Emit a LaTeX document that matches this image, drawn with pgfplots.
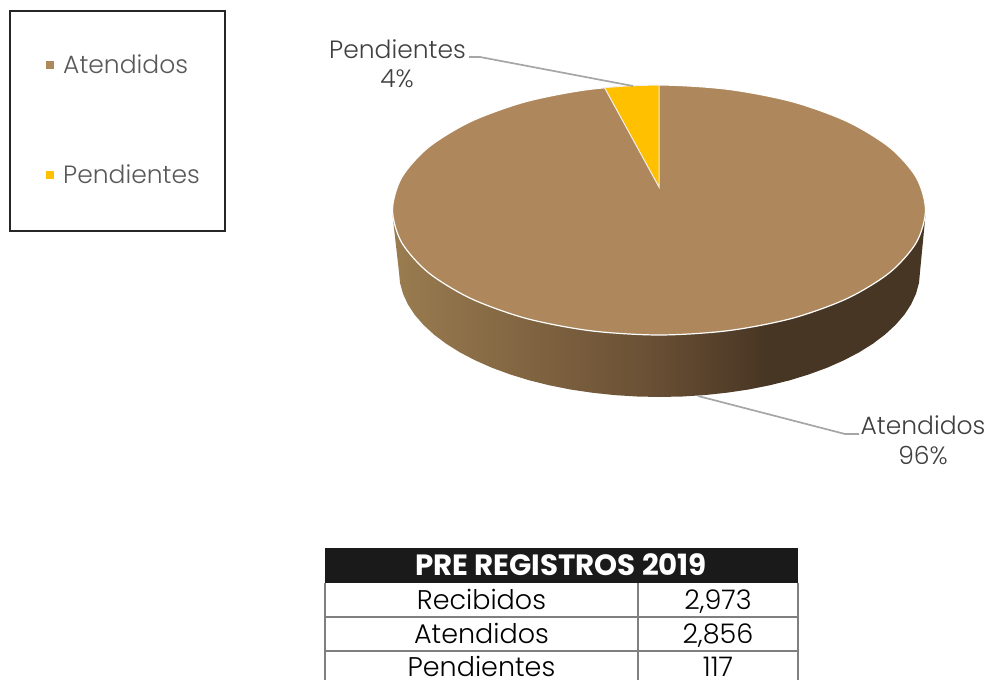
\documentclass[border=0pt]{standalone}
\usepackage{pgfplots}
\pgfplotsset{compat=1.18}
\usepackage{fontspec}
\setmainfont{Poppins}
\newfontfamily\lightf{Poppins Light}
\definecolor{brown1}{HTML}{AE885C}
\definecolor{gold1}{HTML}{FFC000}
\definecolor{s1}{HTML}{9A7C50}
\definecolor{s2}{HTML}{6A5035}
\definecolor{s3}{HTML}{483624}
\definecolor{leader}{HTML}{A6A6A6}
\definecolor{lab}{HTML}{404040}
\definecolor{leg}{HTML}{595959}
\definecolor{tabline}{HTML}{7F7F7F}
\definecolor{tabhead}{HTML}{1A1A1A}
\pgfdeclarehorizontalshading{sidewall}{100bp}{color(0bp)=(s1); color(25bp)=(s1); color(49bp)=(s2); color(60bp)=(s3); color(100bp)=(s3)}
\begin{document}
\begin{tikzpicture}
\path[use as bounding box] (0,0) rectangle (989pt,680pt);
\begin{axis}[
  at={(0,0)}, anchor=south west,
  scale only axis, width=989pt, height=680pt,
  xmin=0, xmax=989, ymin=0, ymax=680, y dir=reverse,
  hide axis, clip=true]
% side wall
\addplot[draw=none, shade, shading=sidewall, forget plot] coordinates {
 (392.5,215) (399,272) (400,282.9) (403,293.7) (407.9,304.4) (414.7,314.8) (423.4,324.8) (433.9,334.5) (446.1,343.7) (460,352.4) (475.3,360.4) (492.1,367.8) (510.1,374.4) (529.2,380.3) (549.4,385.3) (570.4,389.5) (592.1,392.7) (614.3,395.1) (636.8,396.5) (659.5,397)
 (682.2,396.5) (704.7,395.1) (726.9,392.7) (748.6,389.5) (769.6,385.3) (789.8,380.3) (808.9,374.4) (826.9,367.8) (843.7,360.4) (859,352.4) (872.9,343.7) (885.1,334.5) (895.6,324.8) (904.3,314.8) (911.1,304.4) (916,293.7) (919,282.9) (920,272) (925.5,215)} --cycle;
% top face
\addplot[smooth cycle, draw=white, line width=1.2pt, fill=brown1, forget plot] coordinates {
 (925.5,210) (916.4,242.4) (889.8,272.5) (847.4,298.4) (792.3,318.3) (728,330.7) (659,335)
 (590,330.7) (525.7,318.3) (470.6,298.4) (428.2,272.5) (401.6,242.4) (392.5,210)
 (401.6,177.6) (428.2,147.5) (470.6,121.6) (525.7,101.7) (590,89.3) (659,85)
 (728,89.3) (792.3,101.7) (847.4,121.6) (889.8,147.5) (916.4,177.6)};
% Pendientes wedge
\addplot[draw=white!85!brown1, line width=1pt, fill=gold1, forget plot] coordinates {
 (659,187) (604.5,87.6) (618,86.6) (632,85.6) (659,85)} --cycle;
% leaders
\addplot[leader, line width=1.7pt] coordinates {(469,57) (480,57) (633,86)};
\addplot[leader, line width=1.7pt] coordinates {(698,396) (845,434) (859,434)};
% legend markers
\addplot[only marks, mark=square*, mark size=3.5pt, color=brown1] coordinates {(50,65)};
\addplot[only marks, mark=square*, mark size=3.5pt, color=gold1] coordinates {(50,175)};
% legend frame
\addplot[black!85, line width=2pt] coordinates {(9.5,11) (225,11) (225,230.5) (9.5,230.5)} --cycle;
\node[anchor=base west, text=leg, font=\lightf\fontsize{25}{28}\selectfont, inner sep=0] at (axis cs:63,73) {Atendidos};
\node[anchor=base west, text=leg, font=\lightf\fontsize{25}{28}\selectfont, inner sep=0] at (axis cs:63,183) {Pendientes};
% data labels
\node[anchor=base, text=lab, font=\lightf\fontsize{25}{28}\selectfont, inner sep=0] at (axis cs:397.5,58) {Pendientes};
\node[anchor=base, text=lab, font=\lightf\fontsize{25}{28}\selectfont, inner sep=0] at (axis cs:397,87) {4\%};
\node[anchor=base, text=lab, font=\lightf\fontsize{25}{28}\selectfont, inner sep=0] at (axis cs:923,434) {Atendidos};
\node[anchor=base, text=lab, font=\lightf\fontsize{25}{28}\selectfont, inner sep=0] at (axis cs:923,464) {96\%};
% table
\addplot[draw=none, fill=tabhead] coordinates {(325,548) (798,548) (798,583) (325,583)} --cycle;
\addplot[tabline, line width=2pt] coordinates {(325,583) (325,680)};
\addplot[tabline, line width=2pt] coordinates {(638,583) (638,680)};
\addplot[tabline, line width=2pt] coordinates {(797.5,583) (797.5,680)};
\addplot[tabline, line width=2pt] coordinates {(325,617) (798,617)};
\addplot[tabline, line width=2pt] coordinates {(325,651) (798,651)};
\node[anchor=base, text=white, font=\bfseries\fontsize{29.3}{32}\selectfont, inner sep=0] at (axis cs:561,575) {PRE REGISTROS 2019};
\node[anchor=base, text=black, font=\lightf\fontsize{27}{30}\selectfont, inner sep=0] at (axis cs:481.5,609.5) {Recibidos};
\node[anchor=base, text=black, font=\lightf\fontsize{27}{30}\selectfont, inner sep=0] at (axis cs:481.5,643.5) {Atendidos};
\node[anchor=base, text=black, font=\lightf\fontsize{27}{30}\selectfont, inner sep=0] at (axis cs:481.5,676.5) {Pendientes};
\node[anchor=base, text=black, font=\lightf\fontsize{27}{30}\selectfont, inner sep=0] at (axis cs:718,609.5) {2,973};
\node[anchor=base, text=black, font=\lightf\fontsize{27}{30}\selectfont, inner sep=0] at (axis cs:718,643.5) {2,856};
\node[anchor=base, text=black, font=\lightf\fontsize{27}{30}\selectfont, inner sep=0] at (axis cs:718,676.5) {117};
\end{axis}
\end{tikzpicture}
\end{document}
